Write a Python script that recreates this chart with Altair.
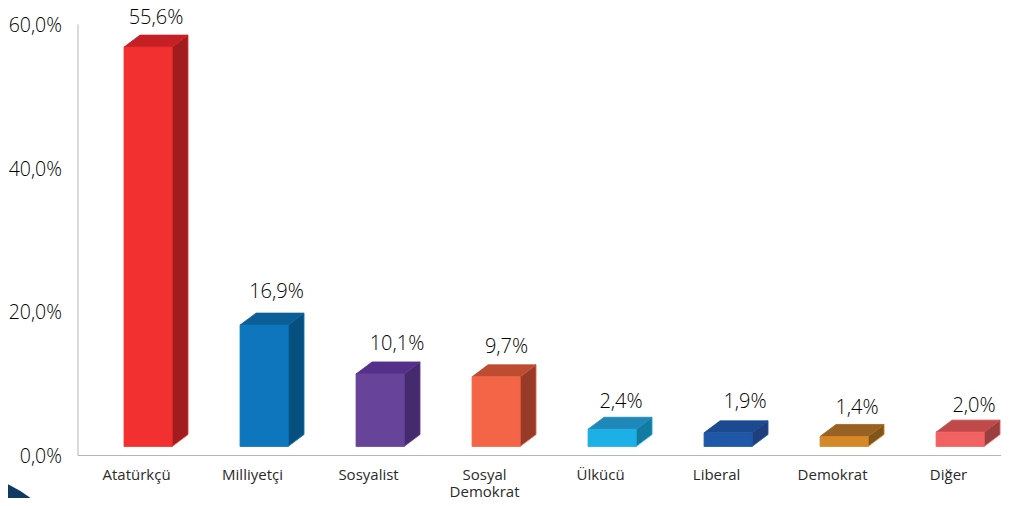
import altair as alt
import pandas as pd

categories = ["Atatürkçü", "Milliyetçi", "Sosyalist", "Sosyal\nDemokrat", "Ülkücü", "Liberal", "Demokrat", "Diğer"]
values = [55.6, 16.9, 10.1, 9.7, 2.4, 1.9, 1.4, 2.0]
front = ["#f23030", "#0e76bc", "#67449a", "#f46548", "#1cb0e6", "#1f58a8", "#d58828", "#f26262"]
top = ["#c42026", "#0b5e96", "#55308a", "#bd4c30", "#1f88b8", "#1c4a90", "#996222", "#c04a4a"]
side = ["#a01c1f", "#05507f", "#452a6e", "#973a28", "#137aa2", "#1f3f7c", "#7f5518", "#9a3f40"]
label_dx = [8, 12.5, 17, 10.5, 9, 17, 13, 14]
label_dy = [17, 21, 18, 18, 15, 19, 16, 14]
corner_x = [-1.276, -1.10, -0.914]
corner_y = [-3.48, -5.0, -7.1]

XU = 116.0
YU = 431 / 60
half = 24 / XU
dx = 16 / XU
dy = 12 / YU
floor = 8.5 / YU

front_rows, label_rows, cat_rows, poly_rows = [], [], [], []
for i, (c, v) in enumerate(zip(categories, values)):
    l, r = i - half, i + half
    t = floor + v
    front_rows.append(dict(l=l, r=r, b=floor, t=t, color=front[i]))
    label_rows.append(dict(x=i + label_dx[i] / XU, y=t + dy + label_dy[i] / YU, text=f"{v:.1f}%".replace(".", ",")))
    cat_rows.append(dict(x=i - 11.5 / XU, y=-1.8, text=c))
    # side face
    poly_rows.append(dict(bar=f"s{i}", x=r, y=floor, y2=t, color=side[i], edge=front[i]))
    poly_rows.append(dict(bar=f"s{i}", x=r + dx, y=floor + dy, y2=t + dy, color=side[i], edge=front[i]))
    # top face
    for px, py, py2 in [(l, t, t), (l + dx, t, t + dy), (r, t, t + dy), (r + dx, t + dy, t + dy)]:
        poly_rows.append(dict(bar=f"t{i}", x=px, y=py, y2=py2, color=top[i], edge=top[i]))

x_scale = alt.Scale(domain=[-0.608, 7.353], nice=False, zero=False)
y_scale = alt.Scale(domain=[0, 60], nice=False)

axes = alt.Chart(pd.DataFrame({"x": [0.0], "y": [0.0]})).mark_point(opacity=0).encode(
    x=alt.X("x:Q", scale=x_scale, axis=alt.Axis(title=None, labels=False, ticks=False, grid=False,
                                                domainColor="#b5b5b5", domainWidth=1)),
    y=alt.Y("y:Q", scale=y_scale, axis=alt.Axis(
        title=None, values=[0, 20, 40, 60], ticks=False, grid=False, domainColor="#b5b5b5", domainWidth=1,
        labelExpr="replace(format(datum.value, '.1f'), '.', ',') + '%'",
        labelFont="Open Sans", labelFontSize=19.5, labelFontWeight=300, labelColor="#000000",
        labelPadding=16, labelOffset=1.5)),
)

polys = alt.Chart(pd.DataFrame(poly_rows)).mark_area(strokeWidth=0.8, interpolate="linear").encode(
    x=alt.X("x:Q", scale=x_scale),
    y=alt.Y("y:Q", scale=y_scale, stack=None),
    y2="y2:Q",
    detail="bar:N",
    fill=alt.Fill("color:N", scale=None),
    stroke=alt.Stroke("edge:N", scale=None),
)

bars = alt.Chart(pd.DataFrame(front_rows)).mark_rect(strokeWidth=0.8).encode(
    x=alt.X("l:Q", scale=x_scale),
    x2="r:Q",
    y=alt.Y("b:Q", scale=y_scale),
    y2="t:Q",
    fill=alt.Fill("color:N", scale=None),
    stroke=alt.Stroke("color:N", scale=None),
)

value_labels = alt.Chart(pd.DataFrame(label_rows)).mark_text(
    font="Open Sans", fontSize=20, fontWeight=300, color="#000000", align="center", baseline="middle"
).encode(x=alt.X("x:Q", scale=x_scale), y=alt.Y("y:Q", scale=y_scale), text="text:N")

cat_labels = alt.Chart(pd.DataFrame(cat_rows)).mark_text(
    font="Open Sans", fontSize=15, color="#2a2a2a", align="center", baseline="top", lineBreak="\n", lineHeight=17
).encode(x=alt.X("x:Q", scale=x_scale), y=alt.Y("y:Q", scale=y_scale), text="text:N")

corner = alt.Chart(pd.DataFrame({"x": corner_x, "y": corner_y, "y2": [-7.6, -7.6, -7.6]})).mark_area(
    color="#0f3a66", clip=False
).encode(x=alt.X("x:Q", scale=x_scale), y=alt.Y("y:Q", scale=y_scale, stack=None), y2="y2:Q")

chart = (axes + polys + bars + value_labels + cat_labels + corner).properties(
    width=923.5, height=431,
    autosize=alt.AutoSizeParams(type="none"),
    padding={"left": 69.5, "top": 16, "right": 0, "bottom": 43},
).configure_view(stroke=None)

chart.save("out.html", embed_options={"renderer": "svg", "actions": False})
